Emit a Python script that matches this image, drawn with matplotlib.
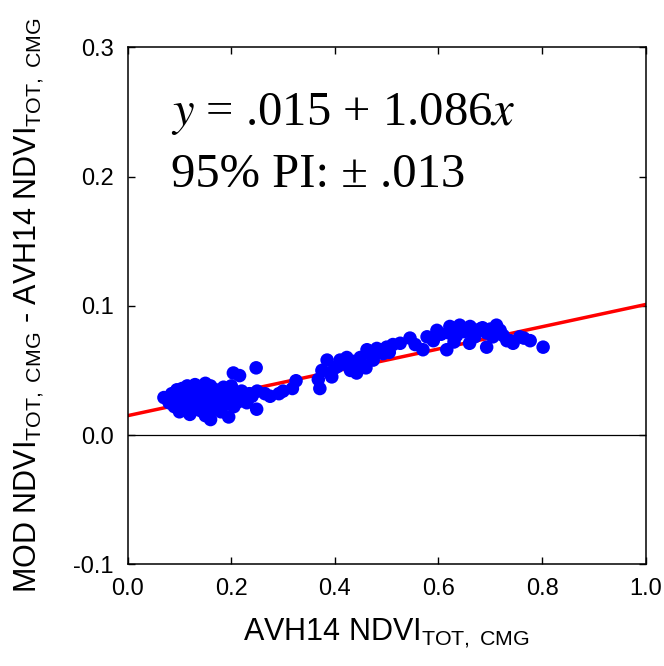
import numpy as np
import matplotlib.pyplot as plt

plt.rcParams['font.family'] = ['Liberation Sans', 'DejaVu Sans']
plt.rcParams['mathtext.fontset'] = 'custom'
plt.rcParams['mathtext.rm'] = 'Liberation Sans'
plt.rcParams['mathtext.it'] = 'Liberation Sans:italic'

# AVH14 NDVI (x) and MOD - AVH14 difference (y)
avh = [0.070, 0.080, 0.085, 0.090, 0.090, 0.095, 0.100, 0.100, 0.100, 0.105,
       0.110, 0.110, 0.110, 0.115, 0.120, 0.120, 0.120, 0.125, 0.130, 0.130,
       0.130, 0.135, 0.140, 0.140, 0.140, 0.145, 0.150, 0.150, 0.150, 0.155,
       0.160, 0.160, 0.160, 0.165, 0.170, 0.170, 0.175, 0.180, 0.180, 0.185,
       0.190, 0.190, 0.195, 0.200, 0.200, 0.205, 0.210, 0.204, 0.215, 0.220,
       0.216, 0.225, 0.230, 0.235, 0.240, 0.248, 0.249, 0.250, 0.095, 0.105,
       0.125, 0.140, 0.155, 0.170, 0.185, 0.115, 0.135, 0.150, 0.175, 0.195,
       0.265, 0.275, 0.292, 0.300, 0.318, 0.325,
       0.368, 0.371, 0.375, 0.385, 0.394, 0.400, 0.410, 0.423, 0.430, 0.442,
       0.449, 0.455, 0.462, 0.474, 0.481, 0.487, 0.493, 0.500, 0.505, 0.512,
       0.420, 0.435, 0.460, 0.470, 0.390, 0.405,
       0.526, 0.545, 0.555, 0.570, 0.578, 0.590, 0.597, 0.605, 0.616, 0.622,
       0.630, 0.635, 0.641, 0.650, 0.661, 0.670, 0.680, 0.693, 0.693, 0.700,
       0.712, 0.719, 0.725, 0.732, 0.738, 0.744, 0.757, 0.765, 0.777, 0.802,
       0.660, 0.705, 0.620, 0.685]
diff = [0.029, 0.025, 0.032, 0.028, 0.022, 0.035, 0.030, 0.024, 0.018, 0.036,
        0.027, 0.021, 0.032, 0.038, 0.030, 0.024, 0.016, 0.034, 0.028, 0.021,
        0.039, 0.032, 0.026, 0.019, 0.036, 0.030, 0.040, 0.023, 0.015, 0.033,
        0.027, 0.012, 0.038, 0.020, 0.031, 0.035, 0.025, 0.029, 0.018, 0.037,
        0.024, 0.033, 0.014, 0.028, 0.038, 0.022, 0.031, 0.048, 0.026, 0.034,
        0.046, 0.029, 0.025, 0.032, 0.030, 0.052, 0.020, 0.034, 0.027, 0.029,
        0.026, 0.029, 0.025, 0.027, 0.030, 0.025, 0.024, 0.031, 0.021, 0.026,
        0.032, 0.030, 0.032, 0.034, 0.036, 0.042,
        0.043, 0.036, 0.050, 0.058, 0.045, 0.052, 0.058, 0.060, 0.050, 0.048,
        0.060, 0.054, 0.066, 0.058, 0.067, 0.066, 0.063, 0.068, 0.064, 0.070,
        0.055, 0.057, 0.052, 0.062, 0.048, 0.053,
        0.071, 0.075, 0.070, 0.066, 0.076, 0.073, 0.081, 0.078, 0.066, 0.084,
        0.072, 0.077, 0.085, 0.080, 0.084, 0.076, 0.082, 0.079, 0.068, 0.082,
        0.085, 0.081, 0.077, 0.073, 0.073, 0.071, 0.076, 0.075, 0.073, 0.068,
        0.071, 0.076, 0.079, 0.083]

intercept = 0.015
slope = 0.086

fig = plt.figure(figsize=(6.64, 6.66), dpi=100)
ax = fig.add_axes([0.1923, 0.1527, 0.7801, 0.7763])

ax.axhline(0, color='black', lw=0.9, zorder=1)
xs = np.array([0.0, 1.0])
ax.plot(xs, intercept + slope * xs, color='red', lw=2.5, zorder=2)
ax.scatter(avh, diff, s=95, color='blue', edgecolors='none', zorder=3)

ax.set_xlim(0, 1.0)
ax.set_ylim(-0.1, 0.3)
ax.set_xticks([0.0, 0.2, 0.4, 0.6, 0.8, 1.0])
ax.set_yticks([-0.1, 0.0, 0.1, 0.2, 0.3])
ax.set_xticklabels(['0.0', '0.2', '0.4', '0.6', '0.8', '1.0'])
ax.set_yticklabels(['-0.1', '0.0', '0.1', '0.2', '0.3'])
ax.tick_params(direction='in', length=5, width=1, top=True, right=True,
               labelsize=17, pad=10)
for sp in ax.spines.values():
    sp.set_linewidth(1.1)

ax.set_xlabel(r'AVH14 NDVI$_{\mathrm{TOT,\ CMG}}$', fontsize=22, labelpad=12)
ax.set_ylabel(r'MOD NDVI$_{\mathrm{TOT,\ CMG}}$ - AVH14 NDVI$_{\mathrm{TOT,\ CMG}}$',
              fontsize=22, labelpad=20)

ax.text(0.083, 0.85, r'$y$ = .015 + 1.086$x$', transform=ax.transAxes,
        fontsize=35, family='Liberation Serif', math_fontfamily='stix')
ax.text(0.083, 0.73, '95% PI: \u00b1 .013', transform=ax.transAxes,
        fontsize=35, family='Liberation Serif')

fig.savefig('out.png', dpi=100)
